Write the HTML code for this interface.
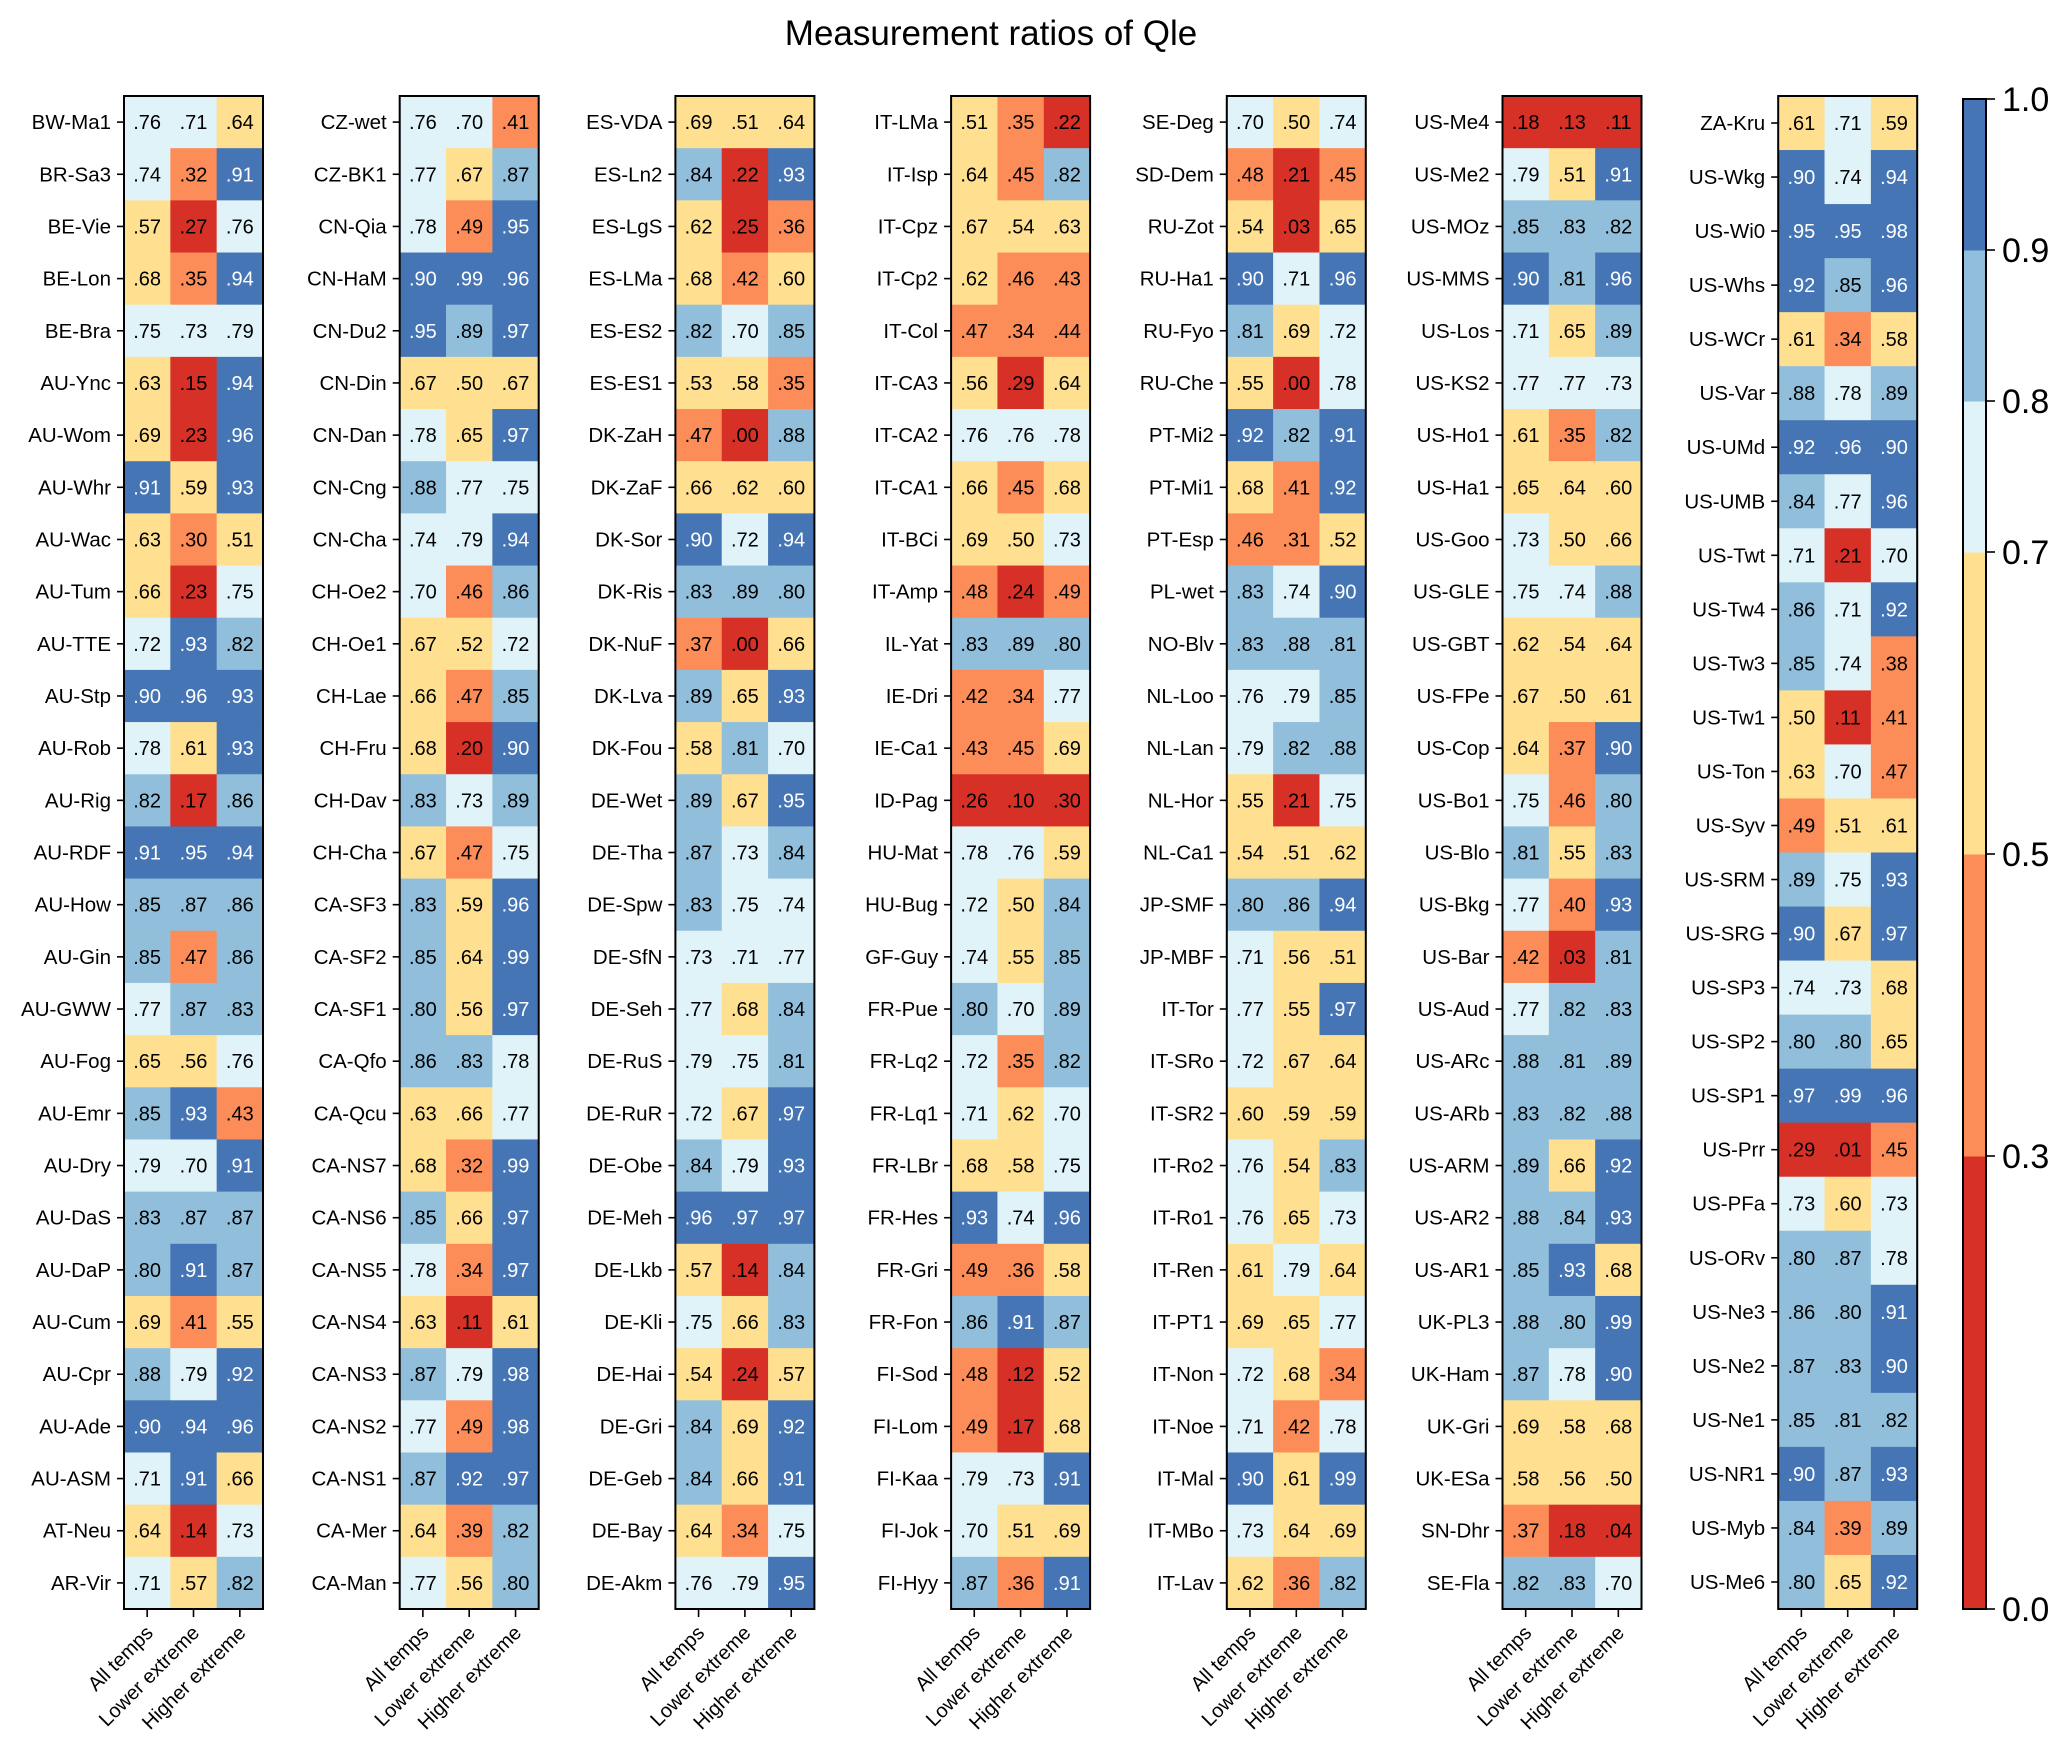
<!DOCTYPE html>
<html><head><meta charset="utf-8"><style>
html,body{margin:0;padding:0;background:#fff;}
svg{display:block;font-family:"Liberation Sans",Arial,sans-serif;}
</style></head><body>
<svg id="fig" width="2067" height="1754" viewBox="0 0 2067 1754" xmlns="http://www.w3.org/2000/svg">
<text x="991" y="45" font-size="35" text-anchor="middle" fill="#000">Measurement ratios of Qle</text>
</svg>
<script>
const columns = ["All temps","Lower extreme","Higher extreme"];
const sites1 = ["BW-Ma1","BR-Sa3","BE-Vie","BE-Lon","BE-Bra","AU-Ync","AU-Wom","AU-Whr","AU-Wac","AU-Tum","AU-TTE","AU-Stp","AU-Rob","AU-Rig","AU-RDF","AU-How","AU-Gin","AU-GWW","AU-Fog","AU-Emr","AU-Dry","AU-DaS","AU-DaP","AU-Cum","AU-Cpr","AU-Ade","AU-ASM","AT-Neu","AR-Vir"];
const vals1 = [[.76,.71,.64],[.74,.32,.91],[.57,.27,.76],[.68,.35,.94],[.75,.73,.79],[.63,.15,.94],[.69,.23,.96],[.91,.59,.93],[.63,.30,.51],[.66,.23,.75],[.72,.93,.82],[.90,.96,.93],[.78,.61,.93],[.82,.17,.86],[.91,.95,.94],[.85,.87,.86],[.85,.47,.86],[.77,.87,.83],[.65,.56,.76],[.85,.93,.43],[.79,.70,.91],[.83,.87,.87],[.80,.91,.87],[.69,.41,.55],[.88,.79,.92],[.90,.94,.96],[.71,.91,.66],[.64,.14,.73],[.71,.57,.82]];
const sites2 = ["CZ-wet","CZ-BK1","CN-Qia","CN-HaM","CN-Du2","CN-Din","CN-Dan","CN-Cng","CN-Cha","CH-Oe2","CH-Oe1","CH-Lae","CH-Fru","CH-Dav","CH-Cha","CA-SF3","CA-SF2","CA-SF1","CA-Qfo","CA-Qcu","CA-NS7","CA-NS6","CA-NS5","CA-NS4","CA-NS3","CA-NS2","CA-NS1","CA-Mer","CA-Man"];
const vals2 = [[.76,.70,.41],[.77,.67,.87],[.78,.49,.95],[.90,.99,.96],[.95,.89,.97],[.67,.50,.67],[.78,.65,.97],[.88,.77,.75],[.74,.79,.94],[.70,.46,.86],[.67,.52,.72],[.66,.47,.85],[.68,.20,.90],[.83,.73,.89],[.67,.47,.75],[.83,.59,.96],[.85,.64,.99],[.80,.56,.97],[.86,.83,.78],[.63,.66,.77],[.68,.32,.99],[.85,.66,.97],[.78,.34,.97],[.63,.11,.61],[.87,.79,.98],[.77,.49,.98],[.87,.92,.97],[.64,.39,.82],[.77,.56,.80]];
const sites3 = ["ES-VDA","ES-Ln2","ES-LgS","ES-LMa","ES-ES2","ES-ES1","DK-ZaH","DK-ZaF","DK-Sor","DK-Ris","DK-NuF","DK-Lva","DK-Fou","DE-Wet","DE-Tha","DE-Spw","DE-SfN","DE-Seh","DE-RuS","DE-RuR","DE-Obe","DE-Meh","DE-Lkb","DE-Kli","DE-Hai","DE-Gri","DE-Geb","DE-Bay","DE-Akm"];
const vals3 = [[.69,.51,.64],[.84,.22,.93],[.62,.25,.36],[.68,.42,.60],[.82,.70,.85],[.53,.58,.35],[.47,.00,.88],[.66,.62,.60],[.90,.72,.94],[.83,.89,.80],[.37,.00,.66],[.89,.65,.93],[.58,.81,.70],[.89,.67,.95],[.87,.73,.84],[.83,.75,.74],[.73,.71,.77],[.77,.68,.84],[.79,.75,.81],[.72,.67,.97],[.84,.79,.93],[.96,.97,.97],[.57,.14,.84],[.75,.66,.83],[.54,.24,.57],[.84,.69,.92],[.84,.66,.91],[.64,.34,.75],[.76,.79,.95]];
const sites4 = ["IT-LMa","IT-Isp","IT-Cpz","IT-Cp2","IT-Col","IT-CA3","IT-CA2","IT-CA1","IT-BCi","IT-Amp","IL-Yat","IE-Dri","IE-Ca1","ID-Pag","HU-Mat","HU-Bug","GF-Guy","FR-Pue","FR-Lq2","FR-Lq1","FR-LBr","FR-Hes","FR-Gri","FR-Fon","FI-Sod","FI-Lom","FI-Kaa","FI-Jok","FI-Hyy"];
const vals4 = [[.51,.35,.22],[.64,.45,.82],[.67,.54,.63],[.62,.46,.43],[.47,.34,.44],[.56,.29,.64],[.76,.76,.78],[.66,.45,.68],[.69,.50,.73],[.48,.24,.49],[.83,.89,.80],[.42,.34,.77],[.43,.45,.69],[.26,.10,.298],[.78,.76,.59],[.72,.50,.84],[.74,.55,.85],[.80,.70,.89],[.72,.35,.82],[.71,.62,.70],[.68,.58,.75],[.93,.74,.96],[.49,.36,.58],[.86,.91,.87],[.48,.12,.52],[.49,.17,.68],[.79,.73,.91],[.70,.51,.69],[.87,.36,.91]];
const sites5 = ["SE-Deg","SD-Dem","RU-Zot","RU-Ha1","RU-Fyo","RU-Che","PT-Mi2","PT-Mi1","PT-Esp","PL-wet","NO-Blv","NL-Loo","NL-Lan","NL-Hor","NL-Ca1","JP-SMF","JP-MBF","IT-Tor","IT-SRo","IT-SR2","IT-Ro2","IT-Ro1","IT-Ren","IT-PT1","IT-Non","IT-Noe","IT-Mal","IT-MBo","IT-Lav"];
const vals5 = [[.70,.50,.74],[.48,.21,.45],[.54,.03,.65],[.90,.71,.96],[.81,.69,.72],[.55,.00,.78],[.92,.82,.91],[.68,.41,.92],[.46,.31,.52],[.83,.74,.90],[.83,.88,.81],[.76,.79,.85],[.79,.82,.88],[.55,.21,.75],[.54,.51,.62],[.80,.86,.94],[.71,.56,.51],[.77,.55,.97],[.72,.67,.64],[.60,.59,.59],[.76,.54,.83],[.76,.65,.73],[.61,.79,.64],[.69,.65,.77],[.72,.68,.34],[.71,.42,.78],[.90,.61,.99],[.73,.64,.69],[.62,.36,.82]];
const sites6 = ["US-Me4","US-Me2","US-MOz","US-MMS","US-Los","US-KS2","US-Ho1","US-Ha1","US-Goo","US-GLE","US-GBT","US-FPe","US-Cop","US-Bo1","US-Blo","US-Bkg","US-Bar","US-Aud","US-ARc","US-ARb","US-ARM","US-AR2","US-AR1","UK-PL3","UK-Ham","UK-Gri","UK-ESa","SN-Dhr","SE-Fla"];
const vals6 = [[.18,.13,.11],[.79,.51,.91],[.85,.83,.82],[.90,.81,.96],[.71,.65,.89],[.77,.77,.73],[.61,.35,.82],[.65,.64,.60],[.73,.50,.66],[.75,.74,.88],[.62,.54,.64],[.67,.50,.61],[.64,.37,.90],[.75,.46,.80],[.81,.55,.83],[.77,.40,.93],[.42,.03,.81],[.77,.82,.83],[.88,.81,.89],[.83,.82,.88],[.89,.66,.92],[.88,.84,.93],[.85,.93,.68],[.88,.80,.99],[.87,.78,.90],[.69,.58,.68],[.58,.56,.50],[.37,.18,.04],[.82,.83,.70]];
const sites7 = ["ZA-Kru","US-Wkg","US-Wi0","US-Whs","US-WCr","US-Var","US-UMd","US-UMB","US-Twt","US-Tw4","US-Tw3","US-Tw1","US-Ton","US-Syv","US-SRM","US-SRG","US-SP3","US-SP2","US-SP1","US-Prr","US-PFa","US-ORv","US-Ne3","US-Ne2","US-Ne1","US-NR1","US-Myb","US-Me6"];
const vals7 = [[.61,.71,.59],[.90,.74,.94],[.95,.95,.98],[.92,.85,.96],[.61,.34,.58],[.88,.78,.89],[.92,.96,.90],[.84,.77,.96],[.71,.21,.70],[.86,.71,.92],[.85,.74,.38],[.50,.11,.41],[.63,.70,.47],[.49,.51,.61],[.89,.75,.93],[.90,.67,.97],[.74,.73,.68],[.80,.80,.65],[.97,.99,.96],[.29,.01,.45],[.73,.60,.73],[.80,.87,.78],[.86,.80,.91],[.87,.83,.90],[.85,.81,.82],[.90,.87,.93],[.84,.39,.89],[.80,.65,.92]];
const cbBounds = [0.0,0.3,0.5,0.7,0.8,0.9,1.0];
const cbColors = ["#d73027","#fc8d59","#fee090","#e0f3f8","#91bfdb","#4575b4"];

const NS="http://www.w3.org/2000/svg";
const svg=document.getElementById('fig');
function mk(tag,attrs,parent){const e=document.createElementNS(NS,tag);for(const k in attrs)e.setAttribute(k,attrs[k]);(parent||svg).appendChild(e);return e;}
function colorOf(v){for(let i=cbBounds.length-2;i>=0;i--){if(v>=cbBounds[i]-1e-9)return cbColors[i];}return cbColors[0];}
function fmt(v){return v.toFixed(2).replace(/^0/,'');}

const panels=[[sites1,vals1],[sites2,vals2],[sites3,vals3],[sites4,vals4],[sites5,vals5],[sites6,vals6],[sites7,vals7]];
const topY=96,bottomY=1609,pw=139,x0=124,step=275.7;
panels.forEach((p,pi)=>{
  const sites=p[0],vals=p[1];
  const left=x0+pi*step, cw=pw/columns.length, rh=(bottomY-topY)/sites.length;
  const g=mk('g',{});
  
  
  vals.forEach((row,ri)=>{
    row.forEach((v,ci)=>{
      const r=mk('rect',{x:left+ci*cw,y:topY+ri*rh,width:cw+0.5,height:rh+0.5,fill:colorOf(v)},g);
      
      
      const t=mk('text',{x:left+(ci+0.5)*cw,y:topY+(ri+0.5)*rh+7,'font-size':20,'text-anchor':'middle',fill:v>=0.9?'#fff':'#000'},g);
      
      
      t.textContent=fmt(v);
    });
    const yc=topY+(ri+0.5)*rh;
    mk('line',{x1:left-7,x2:left,y1:yc,y2:yc,stroke:'#000','stroke-width':1.6},g);
    const lt=mk('text',{x:left-13,y:yc+7,'font-size':20.5,'text-anchor':'end',fill:'#000'},g);
    
    
    lt.textContent=sites[ri];
  });
  const fr=mk('rect',{x:left,y:topY,width:pw,height:bottomY-topY,fill:'none',stroke:'#000','stroke-width':2},g);
  
  
  columns.forEach((c,ci)=>{
    const xc=left+(ci+0.5)*cw;
    mk('line',{x1:xc,x2:xc,y1:bottomY,y2:bottomY+8,stroke:'#000','stroke-width':1.6},g);
    const t=mk('text',{x:xc+7,y:bottomY+25,'font-size':20,'text-anchor':'end',fill:'#000',transform:'rotate(-45 '+(xc+7)+' '+(bottomY+25)+')'},g);
    
    
    t.textContent=c;
  });
});

const cbx=1963,cbw=23;
const cb=mk('g',{});


function cy(v){return bottomY-(bottomY-99)*v;}
for(let i=0;i<cbColors.length;i++){
  const r=mk('rect',{x:cbx,y:cy(cbBounds[i+1]),width:cbw,height:cy(cbBounds[i])-cy(cbBounds[i+1])+0.5,fill:cbColors[i]},cb);
  
  
}
mk('rect',{x:cbx,y:99,width:cbw,height:bottomY-99,fill:'none',stroke:'#000','stroke-width':2},cb);
cbBounds.forEach(b=>{
  const y=cy(b);
  mk('line',{x1:cbx+cbw,x2:cbx+cbw+9,y1:y,y2:y,stroke:'#000','stroke-width':1.6},cb);
  const t=mk('text',{x:cbx+cbw+16,y:y+12,'font-size':34,fill:'#000'},cb);
  
  
  t.textContent=b.toFixed(1);
});
</script>
</body></html>
